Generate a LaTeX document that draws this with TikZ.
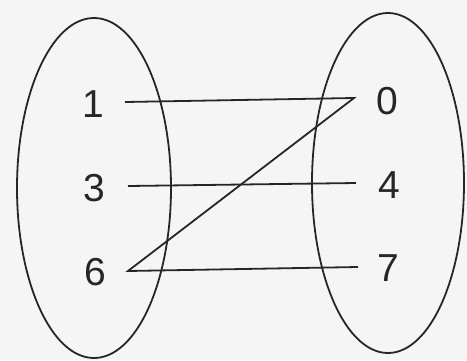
\documentclass[tikz,border=0pt]{standalone}
\usepackage{fontspec}
\setmainfont{Liberation Sans}
\begin{document}
\begin{tikzpicture}[x=1pt,y=-1pt,
  setline/.style={line width=1.8pt, draw=black!85},
  digit/.style={font=\fontsize{39}{42}\selectfont, text=black!85, inner sep=0pt}]
\fill[black!4] (0,0) rectangle (467,360);
\useasboundingbox (0,0) rectangle (467,360);
% sets
\draw[setline] (94,188) ellipse [x radius=77, y radius=170];
\draw[setline] (388,183) ellipse [x radius=76, y radius=170];
% labels
\node[digit] (n1) at (93,104) {1};
\node[digit] (n3) at (94,188) {3};
\node[digit] (n6) at (95,272) {6};
\node[digit] (n0) at (387,101) {0};
\node[digit] (n4) at (389,185) {4};
\node[digit] (n7) at (388,268) {7};
% connector ends
\coordinate (a1) at (125,102);
\coordinate (a3) at (128,186);
\coordinate (a6) at (128,271);
\coordinate (b0) at (354,98);
\coordinate (b4) at (356,183);
\coordinate (b7) at (358,267);
\draw[setline, line join=miter] (a1) -- (b0) -- (a6) -- (b7);
\draw[setline] (a3) -- (b4);
\end{tikzpicture}
\end{document}
